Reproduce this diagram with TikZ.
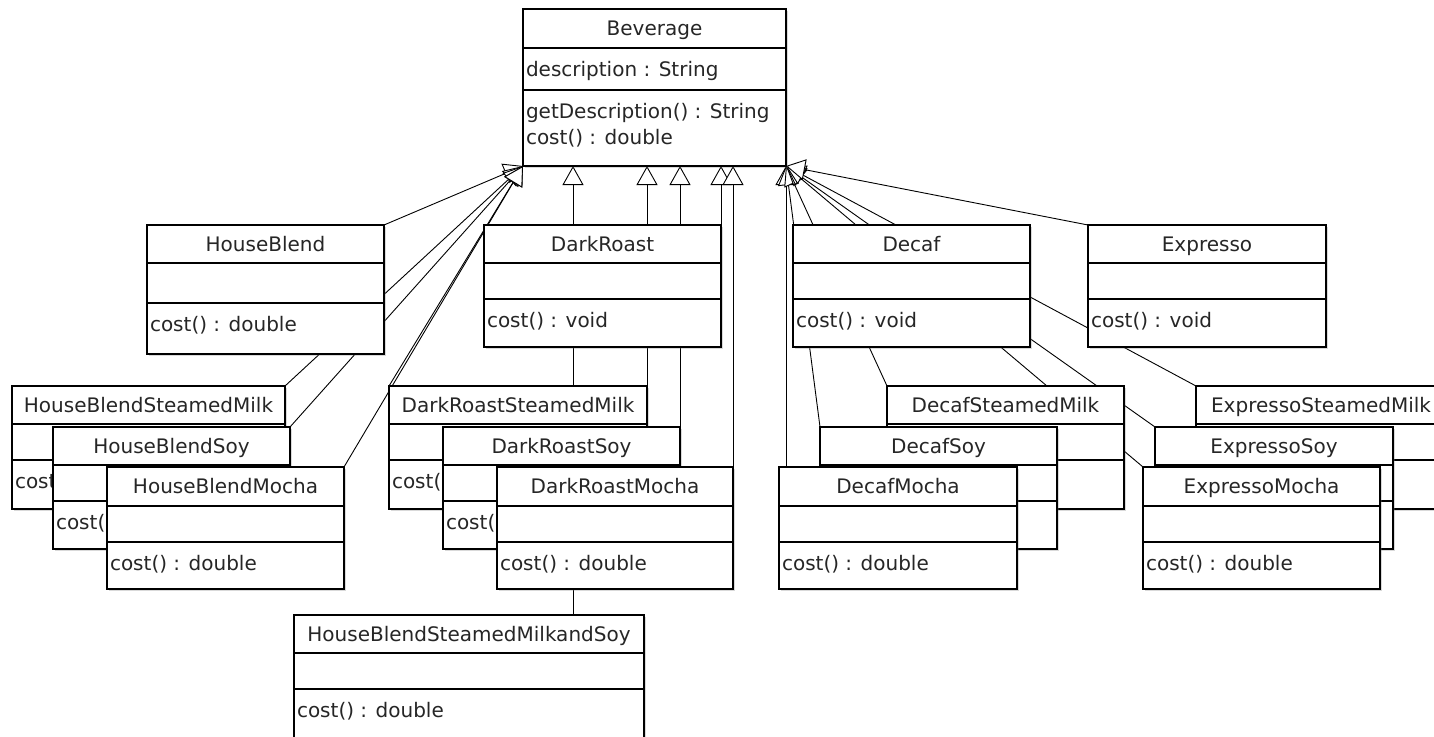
\documentclass[tikz,border=0pt]{standalone}
\usepackage{fontspec}
\setmainfont{DejaVu Sans}
\usetikzlibrary{arrows.meta,shadows,backgrounds,positioning}

\tikzset{
  classbox/.style={draw, line width=1.1pt, fill=white, inner sep=0pt, outer sep=0pt,
    drop shadow={shadow xshift=1.5pt, shadow yshift=-1.5pt, opacity=.3}},
  classline/.style={line width=1.1pt},
  member/.style={inner sep=0pt, outer sep=0pt, text=black!85, font=\fontsize{20}{24}\selectfont},
  generalize/.style={line width=.9pt, -{Triangle[fill=white, length=19pt, width=21pt]}},
}

\def\splitheights#1/#2/#3\relax{\def\hA{#1}\def\hB{#2}\def\hC{#3}}

% #1 name, #2 top left corner, #3 width, #4 compartment heights,
% #5 class name, #6 attributes, #7 operations
\newcommand{\umlclass}[7]{%
  \splitheights#4\relax
  \pgfmathsetmacro\hTotal{\hA+\hB+\hC}
  \pgfmathsetmacro\hLine{\hA+\hB}
  \node[classbox, minimum width=#3, minimum height=\hTotal pt, anchor=north west] (#1) at (#2) {};
  \draw[classline] ([yshift={-\hA*1pt}]#1.north west) -- ([yshift={-\hA*1pt}]#1.north east);
  \draw[classline] ([yshift={-\hLine*1pt}]#1.north west) -- ([yshift={-\hLine*1pt}]#1.north east);
  \node[member, anchor=base] (#1-name) at ([yshift=-26pt]#1.north) {#5};
  \node[member, anchor=base west] (#1-attr) at ([xshift=3pt, yshift={-(\hA+28)*1pt}]#1.north west) {#6};
  \node[member, anchor=base west] (#1-ops) at ([xshift=3pt, yshift={-(\hLine+28)*1pt}]#1.north west) {#7};
}

\begin{document}
\begin{tikzpicture}[x=1pt, y=-1pt]
\useasboundingbox (0,0) rectangle (1434,736);

% the base class
\umlclass{bev}{523,9}{263pt}{39/42/76}{Beverage}{description : String}{getDescription() : String}
\node[member, anchor=base west] (bev-ops2) at ([yshift=-26pt]bev-ops.base west) {cost() : double};

% first row
\umlclass{hb}{147,225}{237pt}{38/40/51}{HouseBlend}{}{cost() : double}
\umlclass{dr}{484,225}{237pt}{38/36/48}{DarkRoast}{}{cost() : void}
\umlclass{dec}{793,225}{237pt}{38/36/48}{Decaf}{}{cost() : void}
\umlclass{ex}{1088,225}{238pt}{38/36/48}{Expresso}{}{cost() : void}

% condiment classes, stacked
\umlclass{hbsm}{12,386}{273pt}{38/36/49}{HouseBlendSteamedMilk}{}{cost()}
\umlclass{hbsoy}{53,427}{237pt}{38/36/48}{HouseBlendSoy}{}{cost() : double}
\umlclass{hbm}{107,467}{237pt}{39/36/47}{HouseBlendMocha}{}{cost() : double}

\umlclass{drsm}{389,386}{258pt}{38/36/49}{DarkRoastSteamedMilk}{}{cost() : double}
\umlclass{drsoy}{443,427}{237pt}{38/36/48}{DarkRoastSoy}{}{cost() : double}
\umlclass{drm}{497,467}{236pt}{39/36/47}{DarkRoastMocha}{}{cost() : double}

\umlclass{hbsmsoy}{294,615}{350pt}{38/36/70}{HouseBlendSteamedMilkandSoy}{}{cost() : double}

\umlclass{dsm}{887,386}{237pt}{38/36/49}{DecafSteamedMilk}{}{}
\umlclass{dsoy}{820,427}{237pt}{38/36/48}{DecafSoy}{}{cost() : double}
\umlclass{dm}{779,467}{238pt}{39/36/47}{DecafMocha}{}{cost() : double}

\umlclass{exsm}{1196,386}{250pt}{38/36/49}{ExpressoSteamedMilk}{}{}
\umlclass{exsoy}{1155,427}{238pt}{38/36/48}{ExpressoSoy}{}{cost() : double}
\umlclass{exm}{1143,467}{237pt}{39/36/47}{ExpressoMocha}{}{cost() : double}

\begin{scope}[on background layer]
  % into the lower left corner
  \foreach \child in {hb.north east, hbsm.north east, hbsoy.north east, hbm.north east, drsm.north west}
    \draw[generalize] (\child) -- (bev.south west);
  % straight up
  \coordinate (hbsmsoy-up) at ([xshift=279pt]hbsmsoy.north west);
  \foreach \child in {hbsmsoy-up, drsm.north east, drsoy.north east, dr.north east, drm.north east}
    \draw[generalize] (\child) -- (\child |- bev.south);
  % into the lower right corner
  \draw[generalize] (dm.north -| bev.south east) -- (bev.south east);
  \foreach \child in {dsoy, dsm, exm, exsoy, exsm, ex}
    \draw[generalize] (\child.north west) -- (bev.south east);
\end{scope}

\end{tikzpicture}
\end{document}
